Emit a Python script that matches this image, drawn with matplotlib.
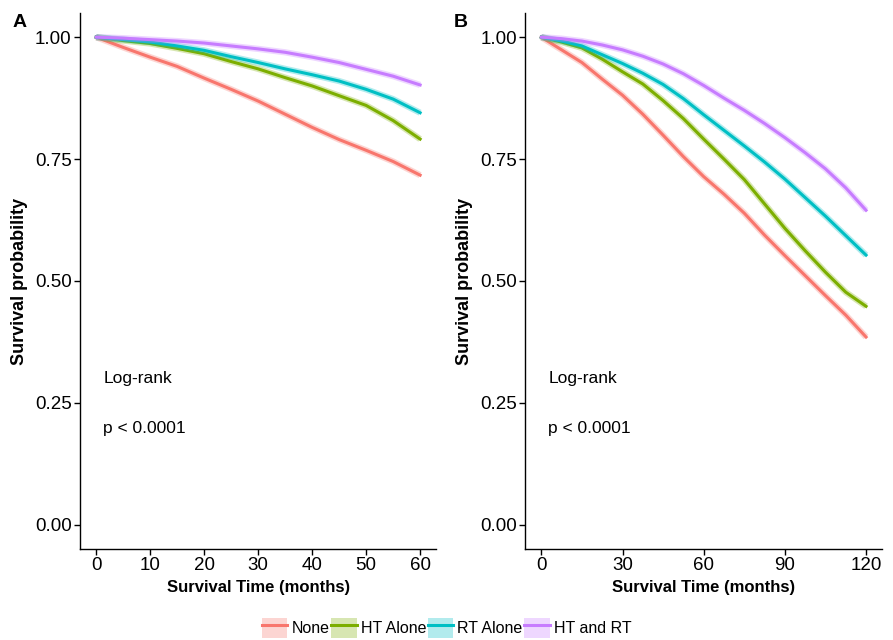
import matplotlib
matplotlib.use("Agg")
import matplotlib.pyplot as plt
from matplotlib.lines import Line2D
from matplotlib.patches import Patch
from matplotlib.legend_handler import HandlerTuple

plt.rcParams['font.family'] = ['Liberation Sans', 'DejaVu Sans']

groups = ["None", "HT Alone", "RT Alone", "HT and RT"]
colors = ["#F8766D", "#7CAE00", "#00BFC4", "#C77CFF"]

# panel A: 60 months
months_a = [0, 5, 10, 15, 20, 25, 30, 35, 40, 45, 50, 55, 60]
surv_a = {
    "None":      [1.0, 0.979, 0.959, 0.940, 0.916, 0.893, 0.869, 0.842, 0.815, 0.790, 0.768, 0.745, 0.717],
    "HT Alone":  [1.0, 0.993, 0.987, 0.977, 0.966, 0.950, 0.935, 0.917, 0.900, 0.880, 0.860, 0.829, 0.791],
    "RT Alone":  [1.0, 0.995, 0.990, 0.982, 0.973, 0.960, 0.948, 0.935, 0.923, 0.910, 0.893, 0.873, 0.845],
    "HT and RT": [1.0, 0.998, 0.995, 0.992, 0.988, 0.982, 0.976, 0.969, 0.959, 0.948, 0.934, 0.920, 0.902],
}

# panel B: 120 months
months_b = [0, 7.5, 15, 22.5, 30, 37.5, 45, 52.5, 60, 67.5, 75, 82.5, 90, 97.5, 105, 112.5, 120]
surv_b = {
    "None":      [1.0, 0.974, 0.948, 0.914, 0.881, 0.842, 0.799, 0.755, 0.714, 0.678, 0.639, 0.594, 0.552,
                  0.511, 0.470, 0.430, 0.385],
    "HT Alone":  [1.0, 0.990, 0.978, 0.955, 0.929, 0.904, 0.870, 0.833, 0.791, 0.750, 0.708, 0.658, 0.608,
                  0.562, 0.518, 0.477, 0.448],
    "RT Alone":  [1.0, 0.992, 0.982, 0.964, 0.946, 0.926, 0.903, 0.874, 0.841, 0.809, 0.777, 0.744, 0.709,
                  0.671, 0.633, 0.593, 0.553],
    "HT and RT": [1.0, 0.997, 0.992, 0.984, 0.974, 0.961, 0.945, 0.925, 0.901, 0.875, 0.850, 0.823, 0.794,
                  0.763, 0.730, 0.691, 0.645],
}

fig = plt.figure(figsize=(8.93, 6.4), dpi=100)
ax_a = fig.add_axes([0.0896, 0.142, 0.399, 0.838])
ax_b = fig.add_axes([0.588, 0.142, 0.400, 0.838])


def draw_panel(ax, months, surv, xmax, xticks, letter, letter_x):
    for g, c in zip(groups, colors):
        ax.plot(months, surv[g], color=c, lw=4.5, alpha=0.3, solid_capstyle='butt')
        ax.plot(months, surv[g], color=c, lw=2.2)
    pad = xmax * 0.05
    ax.set_xlim(-pad, xmax + pad)
    ax.set_ylim(-0.05, 1.05)
    ax.set_xticks(xticks)
    ax.set_yticks([0, 0.25, 0.5, 0.75, 1.0])
    ax.set_yticklabels(["0.00", "0.25", "0.50", "0.75", "1.00"])
    for s in ["top", "right"]:
        ax.spines[s].set_visible(False)
    for s in ["left", "bottom"]:
        ax.spines[s].set_linewidth(1.0)
    ax.tick_params(labelsize=13.5, length=4, width=1, colors='black', pad=2)
    ax.set_xlabel("Survival Time (months)", fontsize=12, fontweight='bold', labelpad=4)
    ax.set_ylabel("Survival probability", fontsize=13, fontweight='bold', labelpad=5)
    ax.text(xmax * 0.022, 0.30, "Log-rank", fontsize=12.5, va='center', ha='left')
    ax.text(xmax * 0.022, 0.197, "p < 0.0001", fontsize=12.5, va='center', ha='left')
    fig.text(letter_x, 0.965, letter, fontsize=14, fontweight='bold', va='center')


draw_panel(ax_a, months_a, surv_a, 60, [0, 10, 20, 30, 40, 50, 60], "A", 0.014)
draw_panel(ax_b, months_b, surv_b, 120, [0, 30, 60, 90, 120], "B", 0.508)

handles = [(Patch(facecolor=c, alpha=0.3, edgecolor='none'),
            Line2D([], [], color=c, lw=2.2)) for c in colors]
fig.legend(handles, groups, loc='center', bbox_to_anchor=(0.5, 0.019), ncol=4,
           frameon=False, fontsize=11.5, handler_map={tuple: HandlerTuple(ndivide=1, pad=0)},
           handlelength=1.6, handleheight=1.6, handletextpad=0.25, columnspacing=0.1)

fig.savefig("out.png", dpi=100)
